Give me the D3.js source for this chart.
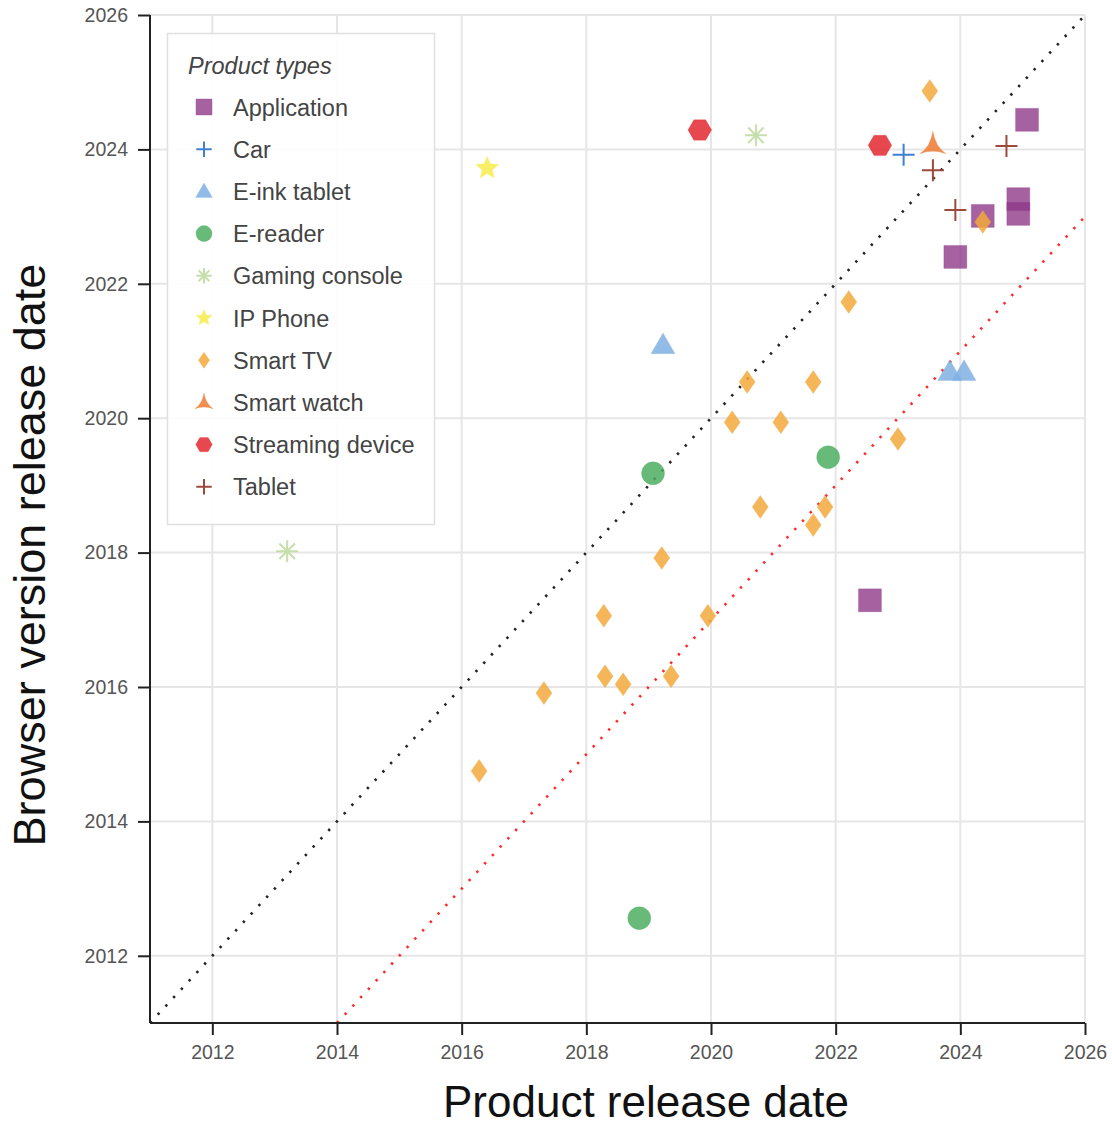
<!DOCTYPE html>
<html>
<head>
<meta charset="utf-8">
<script src="https://cdn.jsdelivr.net/npm/d3@7"></script>
<style>
  body { margin: 0; background: #fff; }
  svg { font-family: "Liberation Sans", Arial, Helvetica, sans-serif; }
</style>
</head>
<body>
<div id="main"></div>
<script>
// Data (decimal years)
const productTypes = ['Application', 'Car', 'E-ink tablet', 'E-reader', 'Gaming console',
  'IP Phone', 'Smart TV', 'Smart watch', 'Streaming device', 'Tablet'];

const typeColors = ['#8e3a88', '#3f80d2', '#7fb0e2', '#4cae5f', '#c6dfaa',
  '#f7ec4c', '#f2a93c', '#ee7a30', '#e3272f', '#9b4a3c'];

const typeShapes = ['square', 'plus', 'triangle', 'circle', 'asterisk',
  'star', 'diamond', 'curvedTriangle', 'hexagon', 'plus'];

// [product release, browser version release]
const application = [[2025.07, 2024.44], [2024.93, 2023.26], [2024.93, 2023.04],
  [2024.36, 2023.01], [2023.92, 2022.40], [2022.55, 2017.29]];
const car = [[2023.09, 2023.92]];
const einkTablet = [[2019.23, 2021.09], [2023.83, 2020.69], [2024.06, 2020.69]];
const eReader = [[2019.07, 2019.18], [2021.88, 2019.42], [2018.85, 2012.56]];
const gamingConsole = [[2020.72, 2024.21], [2013.20, 2018.02]];
const ipPhone = [[2016.41, 2023.72]];
const smartTV = [[2023.51, 2024.87], [2024.36, 2022.92], [2022.21, 2021.73], [2020.58, 2020.54],
  [2021.64, 2020.54], [2020.34, 2019.94], [2021.12, 2019.94], [2023.00, 2019.69],
  [2020.79, 2018.68], [2021.83, 2018.68], [2021.64, 2018.41], [2019.21, 2017.92],
  [2018.28, 2017.06], [2019.95, 2017.06], [2018.30, 2016.16], [2018.59, 2016.04],
  [2019.36, 2016.16], [2017.32, 2015.91], [2016.28, 2014.75]];
const smartWatch = [[2023.56, 2024.07]];
const streamingDevice = [[2019.82, 2024.29], [2022.71, 2024.06]];
const tablet = [[2024.74, 2024.05], [2023.56, 2023.69], [2023.92, 2023.10]];

const seriesPoints = [application, car, einkTablet, eReader, gamingConsole,
  ipPhone, smartTV, smartWatch, streamingDevice, tablet];

const tickYears = [2012, 2014, 2016, 2018, 2020, 2022, 2024, 2026];
const domainYears = [2011, 2026];
const redOffset = 3; // red reference line: browser = product - 3 years

// Layout
const w = 1112, h = 1127;
const plotL = 150, plotR = 1085, plotT = 15, plotB = 1023;

const svg = d3.select('#main').append('svg')
  .attr('width', w).attr('height', h);

const xScale = d3.scaleLinear().domain(domainYears).range([plotL, plotR]);
const yScale = d3.scaleLinear().domain(domainYears).range([plotB, plotT]);

// Gridlines
svg.append('g').selectAll('line').data(tickYears).enter().append('line')
  .attr('x1', d => xScale(d)).attr('x2', d => xScale(d))
  .attr('y1', plotT).attr('y2', plotB)
  .attr('stroke', '#e6e6e6').attr('stroke-width', 2);
svg.append('g').selectAll('line').data(tickYears).enter().append('line')
  .attr('y1', d => yScale(d)).attr('y2', d => yScale(d))
  .attr('x1', plotL).attr('x2', plotR)
  .attr('stroke', '#e6e6e6').attr('stroke-width', 2);

// Reference lines
svg.append('line')
  .attr('x1', xScale(domainYears[0])).attr('y1', yScale(domainYears[0]))
  .attr('x2', xScale(domainYears[1])).attr('y2', yScale(domainYears[1]))
  .attr('stroke', '#222').attr('stroke-width', 2.6).attr('stroke-dasharray', '2.4,9');
svg.append('line')
  .attr('x1', xScale(domainYears[0] + redOffset)).attr('y1', yScale(domainYears[0]))
  .attr('x2', xScale(domainYears[1])).attr('y2', yScale(domainYears[1] - redOffset))
  .attr('stroke', '#ff2a2a').attr('stroke-width', 2.6).attr('stroke-dasharray', '2.4,9');

// Marker paths centred at 0,0, s = half size
function shapePath(shape, s) {
  const p = d3.path();
  if (shape == 'square') {
    p.rect(-s, -s, 2 * s, 2 * s);
  } else if (shape == 'circle') {
    p.arc(0, 0, s, 0, 2 * Math.PI);
  } else if (shape == 'plus') {
    p.moveTo(-s, 0); p.lineTo(s, 0); p.moveTo(0, -s); p.lineTo(0, s);
  } else if (shape == 'asterisk') {
    const k = s * Math.SQRT1_2;
    p.moveTo(-s, 0); p.lineTo(s, 0); p.moveTo(0, -s); p.lineTo(0, s);
    p.moveTo(-k, -k); p.lineTo(k, k); p.moveTo(-k, k); p.lineTo(k, -k);
  } else if (shape == 'triangle') {
    const hh = s * Math.sqrt(3);
    p.moveTo(0, -hh * 0.58); p.lineTo(s, hh * 0.42); p.lineTo(-s, hh * 0.42); p.closePath();
  } else if (shape == 'curvedTriangle') {
    const hh = s * Math.sqrt(3);
    const a = [0, -hh * 0.6], b = [s, hh * 0.4], c = [-s, hh * 0.4];
    p.moveTo(a[0], a[1]);
    p.quadraticCurveTo(s * 0.18, hh * 0.08, b[0], b[1]);
    p.quadraticCurveTo(0, hh * 0.18, c[0], c[1]);
    p.quadraticCurveTo(-s * 0.18, hh * 0.08, a[0], a[1]);
    p.closePath();
  } else if (shape == 'diamond') {
    p.moveTo(0, -s); p.lineTo(s * 0.7, 0); p.lineTo(0, s); p.lineTo(-s * 0.7, 0); p.closePath();
  } else if (shape == 'hexagon') {
    for (let i = 0; i < 6; i++) {
      const ang = i * Math.PI / 3;
      const px = s * Math.cos(ang), py = s * Math.sin(ang);
      if (i == 0) p.moveTo(px, py); else p.lineTo(px, py);
    }
    p.closePath();
  } else if (shape == 'star') {
    for (let i = 0; i < 10; i++) {
      const r = i % 2 == 0 ? s : s * 0.45;
      const ang = -Math.PI / 2 + i * Math.PI / 5;
      if (i == 0) p.moveTo(r * Math.cos(ang), r * Math.sin(ang));
      else p.lineTo(r * Math.cos(ang), r * Math.sin(ang));
    }
    p.closePath();
  }
  return p.toString();
}

function drawMarker(g, shape, color, s) {
  const isLine = shape == 'plus' || shape == 'asterisk';
  g.append('path')
    .attr('d', shapePath(shape, s))
    .attr('fill', isLine ? 'none' : color)
    .attr('stroke', color)
    .attr('stroke-width', isLine ? 2 : 0.8)
    .attr('fill-opacity', shape == 'square' ? 0.8 : 0.85)
    .attr('stroke-opacity', isLine ? 1 : 0.3);
}

const markerSize = { square: 11.5, circle: 11.5, plus: 11, asterisk: 11, triangle: 12,
  curvedTriangle: 13, diamond: 11.5, hexagon: 11.8, star: 12 };

// Points
seriesPoints.forEach((pts, i) => {
  svg.append('g').selectAll('g').data(pts).enter().append('g')
    .attr('transform', d => `translate(${xScale(d[0])},${yScale(d[1])})`)
    .each(function () { drawMarker(d3.select(this), typeShapes[i], typeColors[i], markerSize[typeShapes[i]]); });
});

// Axes
const yAxis = d3.axisLeft(yScale).tickValues(tickYears).tickFormat(d3.format('d')).tickSize(12).tickPadding(10);
const xAxis = d3.axisBottom(xScale).tickValues(tickYears).tickFormat(d3.format('d')).tickSize(12).tickPadding(10);

const gy = svg.append('g').attr('transform', `translate(${plotL},0)`).call(yAxis);
const gx = svg.append('g').attr('transform', `translate(0,${plotB})`).call(xAxis);
[gx, gy].forEach(g => {
  g.select('.domain').attr('stroke', '#222').attr('stroke-width', 2);
  g.selectAll('.tick line').attr('stroke', '#222').attr('stroke-width', 2);
  g.selectAll('.tick text').attr('fill', '#555').style('font-size', '19.5px');
});
gy.select('.domain').attr('d', `M0,${plotT}V${plotB}`);
gx.select('.domain').attr('d', `M${plotL},0H${plotR}`);

// Axis titles
svg.append('text')
  .attr('x', 646).attr('y', 1117)
  .attr('text-anchor', 'middle')
  .style('font-size', '44px').attr('fill', '#111')
  .text('Product release date');
svg.append('text')
  .attr('transform', 'translate(45,555) rotate(-90)')
  .attr('text-anchor', 'middle')
  .style('font-size', '45px').attr('fill', '#111')
  .text('Browser version release date');

// Legend
const legend = svg.append('g');
legend.append('rect')
  .attr('x', 167.5).attr('y', 33.5).attr('width', 267).attr('height', 491)
  .attr('fill', '#fff').attr('fill-opacity', 0.9)
  .attr('stroke', '#e0e0e0').attr('stroke-width', 1.5);
legend.append('text')
  .attr('x', 188).attr('y', 74)
  .style('font-size', '23.5px').style('font-style', 'italic').attr('fill', '#444')
  .text('Product types');
productTypes.forEach((name, i) => {
  const cy = 107 + i * 42.2;
  const g = legend.append('g').attr('transform', `translate(204,${cy})`);
  drawMarker(g, typeShapes[i], typeColors[i], markerSize[typeShapes[i]] * 0.7);
  legend.append('text')
    .attr('x', 233).attr('y', cy + 8.5)
    .style('font-size', '23.5px').attr('fill', '#444')
    .text(name);
});
</script>
</body>
</html>
